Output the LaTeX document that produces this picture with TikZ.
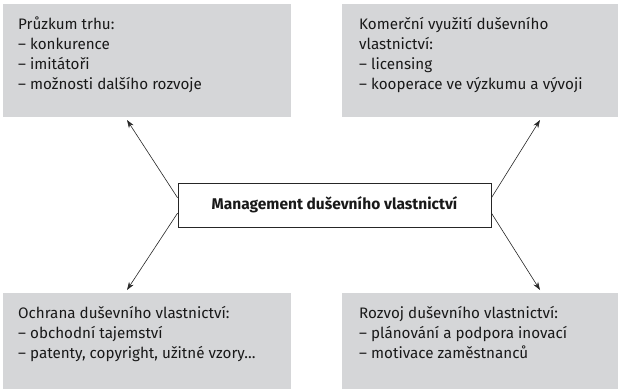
\documentclass[tikz,border=0pt]{standalone}
\usepackage{fontspec}
\setmainfont{Fira Sans}
\usetikzlibrary{arrows.meta,calc}
\definecolor{boxgray}{RGB}{213,214,216}
\tikzset{
  graybox/.style={draw=none,fill=boxgray,inner sep=0pt,anchor=north west},
  boxtext/.style={anchor=north west,align=left,inner sep=0pt,font=\fontsize{15.2}{20}\selectfont,text=black!90},
  centerbox/.style={draw=black!85,line width=0.8pt,fill=white,minimum width=313pt,minimum height=44pt,inner sep=0pt,font=\fontsize{15.5}{18}\bfseries\selectfont,text=black!90},
  arr/.style={draw=black!85,line width=0.6pt,-{Stealth[length=8pt,width=5.5pt]}}
}
\begin{document}
\begin{tikzpicture}[x=1pt,y=-1pt]
\useasboundingbox (0,0) rectangle (621,391);
% boxes
\node[graybox,minimum width=288pt,minimum height=113pt] (tl) at (3,4) {};
\node[graybox,minimum width=276pt,minimum height=113pt] (tr) at (342,4) {};
\node[graybox,minimum width=288pt,minimum height=96pt] (bl) at (3,293) {};
\node[graybox,minimum width=276pt,minimum height=96pt] (br) at (342,293) {};
% texts
\node[boxtext] (tlt) at (18,17) {Průzkum trhu:\\– konkurence\\– imitátoři\\– možnosti dalšího rozvoje};
\node[boxtext] (trt) at (359,17) {Komerční využití duševního\\vlastnictví:\\– licensing\\– kooperace ve výzkumu a vývoji};
\node[boxtext] (blt) at (18,306) {Ochrana duševního vlastnictví:\\– obchodní tajemství\\– patenty, copyright, užitné vzory…};
\node[boxtext] (brt) at (359,306) {Rozvoj duševního vlastnictví:\\– plánování a podpora inovací\\– motivace zaměstnanců};
% center
\node[centerbox] (c) at (334.5,205) {Management duševního vlastnictví};
% arrow end points
\coordinate (etl) at (127,120);
\coordinate (etr) at (540,120);
\coordinate (ebl) at (127,290);
\coordinate (ebr) at (540,290);
\draw[arr] ($(c.north west)!0.34!(c.south west)$) -- (etl);
\draw[arr] ($(c.north west)!0.68!(c.south west)$) -- (ebl);
\draw[arr] ($(c.north east)!0.34!(c.south east)$) -- (etr);
\draw[arr] ($(c.north east)!0.68!(c.south east)$) -- (ebr);
\end{tikzpicture}
\end{document}
